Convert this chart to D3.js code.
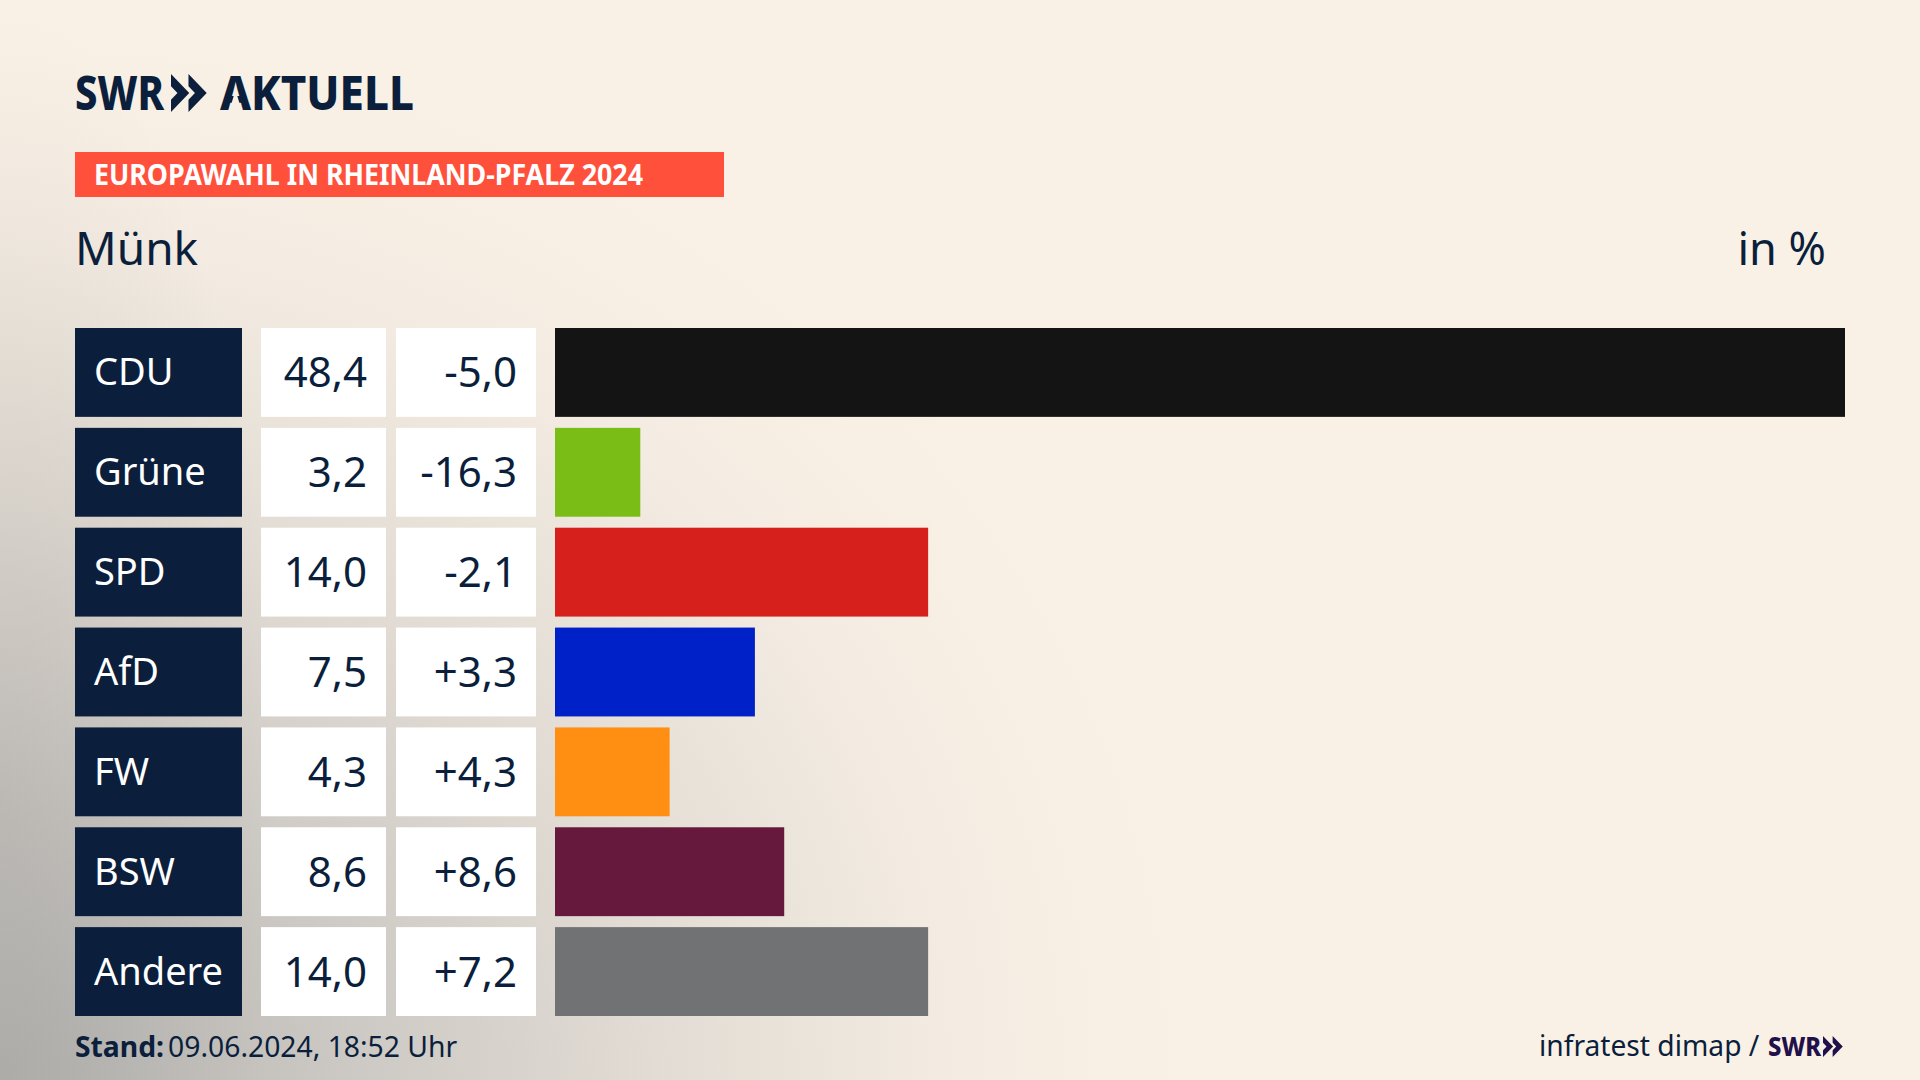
<!DOCTYPE html>
<html lang="de">
<head>
<meta charset="utf-8">
<title>Europawahl in Rheinland-Pfalz 2024</title>
<script src="https://cdn.jsdelivr.net/npm/d3@7"></script>
<style>
	html, body { margin: 0; padding: 0; background: #faf1e6; }
	svg { display: block; }
	text { font-family: "Noto Sans", sans-serif; fill: #0b1f3c; }
</style>
</head>
<body>
<div class="chart"></div>
<script>
let parties = ['CDU', 'Grüne', 'SPD', 'AfD', 'FW', 'BSW', 'Andere'];
let shares = [48.4, 3.2, 14.0, 7.5, 4.3, 8.6, 14.0];
let changes = [-5.0, -16.3, -2.1, 3.3, 4.3, 8.6, 7.2];
let barColors = ['#141414', '#7abd17', '#d6201c', '#0020c8', '#ff8f12', '#66193c', '#717274'];

let width = 1920;
let height = 1080;
let navy = '#0b1f3c';

let svg = d3.select('.chart')
	.append('svg')
	.attr('width', width)
	.attr('height', height);

let defs = svg.append('defs');

// soft grey shading from the lower left corner
let shade = defs.append('radialGradient')
	.attr('id', 'shade')
	.attr('gradientUnits', 'userSpaceOnUse')
	.attr('cx', 0)
	.attr('cy', 0)
	.attr('r', 1)
	.attr('gradientTransform', 'translate(0,1080) scale(1200,1060)');

[[0, '#b4b3b0'], [0.3, '#cdc9c4'], [0.55, '#e2dcd4'], [0.8, '#f4ece2'], [1, '#faf1e6']].forEach(s => {
	shade.append('stop').attr('offset', s[0]).attr('stop-color', s[1]);
});

// extra darkening along the left edge
let edge = defs.append('radialGradient')
	.attr('id', 'edge')
	.attr('gradientUnits', 'userSpaceOnUse')
	.attr('cx', 0)
	.attr('cy', 0)
	.attr('r', 1)
	.attr('gradientTransform', 'translate(0,800) scale(280,800)');

edge.append('stop').attr('offset', 0).attr('stop-color', '#555').attr('stop-opacity', 0.12);
edge.append('stop').attr('offset', 1).attr('stop-color', '#555').attr('stop-opacity', 0);

svg.append('rect')
	.attr('width', width)
	.attr('height', height)
	.attr('fill', 'url(#shade)');
svg.append('rect')
	.attr('width', width)
	.attr('height', height)
	.attr('fill', 'url(#edge)');

// header
function chevrons(g, x, y, size, color) {
	[0, 0.46].forEach(k => {
		g.append('path')
			.attr('transform', 'translate(' + (x + k * size) + ',' + y + ') scale(' + size + ')')
			.attr('d', 'M0,0 L0.48,0.5 L0,1 L0,0.68 L0.17,0.5 L0,0.32 Z')
			.attr('fill', color);
	});
}

svg.append('text')
	.attr('x', 75)
	.attr('y', 110)
	.attr('font-size', 48)
	.attr('font-weight', 800)
	.attr('textLength', 89)
	.attr('lengthAdjust', 'spacingAndGlyphs')
	.text('SWR');
chevrons(svg, 171, 74, 38, navy);
svg.append('text')
	.attr('x', 220)
	.attr('y', 110)
	.attr('font-size', 48)
	.attr('font-weight', 800)
	.attr('textLength', 194)
	.attr('lengthAdjust', 'spacingAndGlyphs')
	.text('AKTUELL');
// the logo's A has no crossbar
svg.append('path')
	.attr('d', 'M229.5,110 L235.5,90 L241.5,110 Z')
	.attr('fill', '#f8efe5');

svg.append('rect')
	.attr('x', 75)
	.attr('y', 152)
	.attr('width', 649)
	.attr('height', 45)
	.attr('fill', '#ff503c');
svg.append('text')
	.attr('x', 94)
	.attr('y', 185)
	.attr('font-size', 29)
	.attr('font-weight', 700)
	.attr('textLength', 549)
	.attr('lengthAdjust', 'spacingAndGlyphs')
	.style('fill', '#fff')
	.text('EUROPAWAHL IN RHEINLAND-PFALZ 2024');

svg.append('text')
	.attr('x', 75)
	.attr('y', 265)
	.attr('font-size', 46)
	.text('Münk');
svg.append('text')
	.attr('x', 1826)
	.attr('y', 265)
	.attr('font-size', 45)
	.attr('text-anchor', 'end')
	.text('in %');

// rows
let xScale = d3.scaleLinear()
	.domain([0, 48.4])
	.range([555, 1845]);

let yScale = d3.scaleBand()
	.domain(parties)
	.range([328, 1016])
	.paddingInner(0.11)
	.paddingOuter(0);

let fmt = d => d3.format('.1f')(Math.abs(d)).replace('.', ',');

let rows = svg.selectAll('.row')
	.data(parties)
	.enter()
	.append('g')
	.attr('class', 'row')
	.attr('transform', d => 'translate(0,' + yScale(d) + ')');

let rowH = yScale.bandwidth();

rows.append('rect')
	.attr('x', 75)
	.attr('width', 167)
	.attr('height', rowH)
	.attr('fill', navy);
rows.append('rect')
	.attr('x', 261)
	.attr('width', 125)
	.attr('height', rowH)
	.attr('fill', '#fff');
rows.append('rect')
	.attr('x', 396)
	.attr('width', 140)
	.attr('height', rowH)
	.attr('fill', '#fff');
rows.append('rect')
	.attr('x', xScale(0))
	.attr('width', (d, i) => xScale(shares[i]) - xScale(0))
	.attr('height', rowH)
	.attr('fill', (d, i) => barColors[i]);

rows.append('text')
	.attr('x', 94)
	.attr('y', rowH / 2 + 13)
	.attr('font-size', 38)
	.style('fill', '#fff')
	.text(d => d);
rows.append('text')
	.attr('x', 367)
	.attr('y', rowH / 2 + 15)
	.attr('font-size', 42)
	.attr('text-anchor', 'end')
	.text((d, i) => fmt(shares[i]));
rows.append('text')
	.attr('x', 517)
	.attr('y', rowH / 2 + 15)
	.attr('font-size', 42)
	.attr('text-anchor', 'end')
	.text((d, i) => (changes[i] > 0 ? '+' : '-') + fmt(changes[i]));

// footer
let stand = svg.append('text')
	.attr('x', 75)
	.attr('y', 1057)
	.attr('font-size', 28.3);
stand.append('tspan').attr('font-weight', 700).text('Stand:');
stand.append('tspan').attr('dx', 4).text('09.06.2024, 18:52 Uhr');

svg.append('text')
	.attr('x', 1539)
	.attr('y', 1056)
	.attr('font-size', 28.2)
	.text('infratest dimap /');
svg.append('text')
	.attr('x', 1768)
	.attr('y', 1056)
	.attr('font-size', 27)
	.attr('font-weight', 800)
	.attr('textLength', 53)
	.attr('lengthAdjust', 'spacingAndGlyphs')
	.style('fill', '#22104a')
	.text('SWR');
chevrons(svg, 1823, 1036, 21, '#22104a');
</script>
</body>
</html>
